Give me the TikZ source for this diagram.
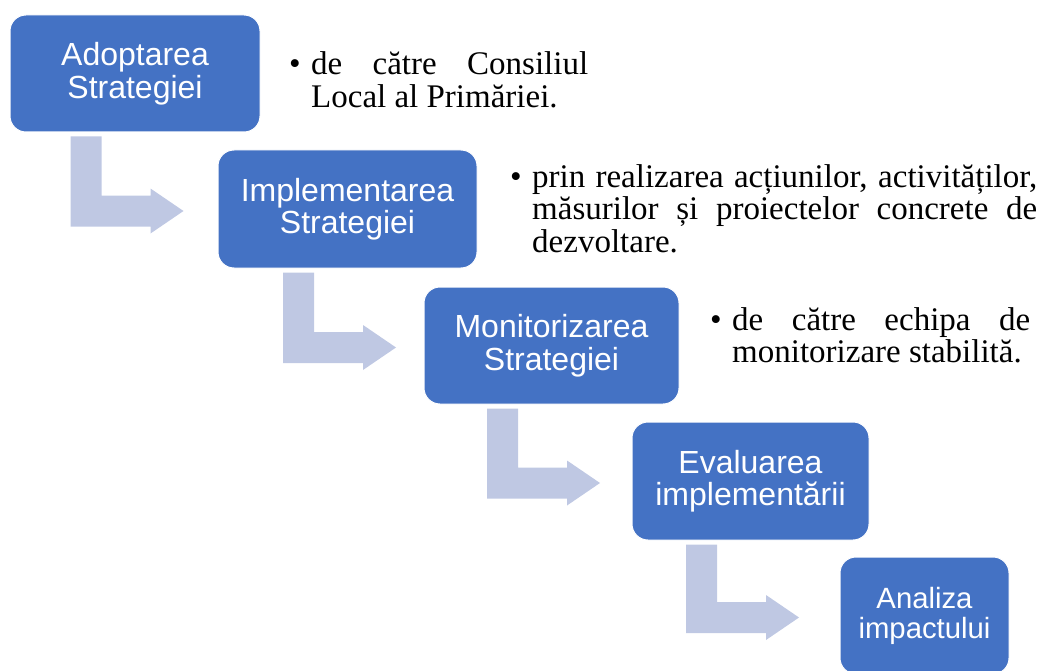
\documentclass[tikz,border=0pt]{standalone}
\usepackage{fontspec}
\setmainfont{Liberation Serif}
\newfontfamily\boxfont{Liberation Sans}
\usetikzlibrary{calc}
\definecolor{boxblue}{RGB}{68,114,196}
\definecolor{flowblue}{RGB}{191,200,227}
\tikzset{
  stage/.style={rectangle, rounded corners=16pt, draw=white, line width=1pt, fill=boxblue,
                text=white, align=center, inner sep=0pt,
                font=\boxfont\fontsize{32}{32.5}\selectfont},
  note/.style={anchor=base west, inner sep=0pt, align=justify,
               font=\fontsize{33}{32.5}\selectfont},
  flowarrow/.style={fill=flowblue},
}
\newcommand{\bentarrow}[2]{%
  \fill[flowarrow] let \p1=($(#1.south)+(-64.5,4)$), \p2=(#2.west) in
    (\p1) -- (\x1+31pt,\y1) -- (\x1+31pt,\y2+13.5pt) -- (\x1+80pt,\y2+13.5pt)
    -- (\x1+80pt,\y2+20.5pt) -- (\x1+113pt,\y2-2pt) -- (\x1+80pt,\y2-24.5pt)
    -- (\x1+80pt,\y2-17.5pt) -- (\x1,\y2-17.5pt) -- cycle;}
\newcommand{\bulletitem}{\leavevmode\makebox[22pt][l]{\textbullet}\hangindent=22pt\hangafter=1\tolerance=10000 }

\begin{document}
\begin{tikzpicture}[x=1pt, y=-1pt]
\clip (0,0) rectangle (1043,671);

\node[stage, minimum width=250, minimum height=117] (adoptare)     at (135,73.5)    {Adoptarea\\Strategiei};
\node[stage, minimum width=259, minimum height=118] (implementare) at (347.5,209)   {Implementarea\\Strategiei};
\node[stage, minimum width=255, minimum height=117] (monitorizare) at (551.5,345.5) {Monitorizarea\\Strategiei};
\node[stage, minimum width=237, minimum height=118] (evaluare)     at (750.5,481)   {Evaluarea\\implementării};
\node[stage, minimum width=169, minimum height=117,
      font=\boxfont\fontsize{29.3}{30}\selectfont] (analiza) at (924.5,615.5) {Analiza\\impactului};

\node[note, text width=299] (noteadopt) at (289,75)
  {\bulletitem de către Consiliul\linebreak Local al Primăriei.\par};
\node[note, text width=527] (noteimpl) at (510,187)
  {\bulletitem prin realizarea acțiunilor, activităților,\linebreak măsurilor și proiectelor concrete de\linebreak dezvoltare.\par};
\node[note, text width=320] (notemonit) at (710,330)
  {\bulletitem de către echipa de\linebreak monitorizare stabilită.\par};

\bentarrow{adoptare}{implementare}
\bentarrow{implementare}{monitorizare}
\bentarrow{monitorizare}{evaluare}
\bentarrow{evaluare}{analiza}
\end{tikzpicture}
\end{document}
